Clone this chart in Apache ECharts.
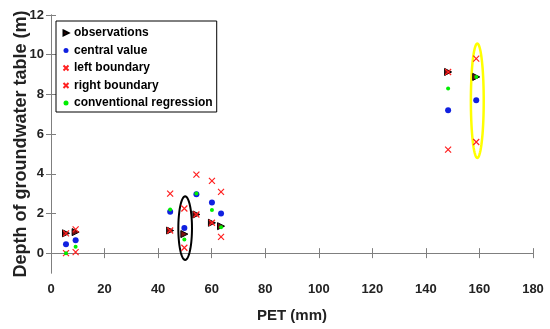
<!DOCTYPE html>
<html><head><meta charset="utf-8">
<script src="https://cdn.jsdelivr.net/npm/echarts@6/dist/echarts.min.js"></script>
<style>html,body{margin:0;padding:0;background:#fff}#c{width:550px;height:329px}</style>
</head><body><div id="c"></div>
<script>
var pet = [5.6, 9.2, 44.5, 49.8, 54.3, 60.1, 63.5, 148.3, 158.8];
var observations = [1.0, 1.06, 1.14, 0.96, 1.95, 1.53, 1.36, 9.13, 8.88];
var centralValue = [0.45, 0.65, 2.08, 1.27, 2.97, 2.55, 2.0, 7.2, 7.71];
var leftBoundary = [0.0, 0.05, 1.14, 0.27, 1.95, 1.53, 0.82, 5.22, 5.6];
var rightBoundary = [1.0, 1.2, 3.0, 2.25, 3.96, 3.64, 3.09, 9.13, 9.8];
var conventional = [0.0, 0.32, 2.2, 0.69, 3.0, 2.17, 1.3, 8.3, 8.88];
var xTicks = [0, 20, 40, 60, 80, 100, 120, 140, 160, 180];
var yTicks = [0, 2, 4, 6, 8, 10, 12];
// ellipse annotations: [centerX, centerY, radiusX, radiusY]
var blackEllipse = [[50.1, 1.26, 2.55, 1.6]];
var yellowEllipse = [[159.2, 7.68, 2.4, 2.88]];

function pairs(ys){ return pet.map(function(x,i){ return [x, ys[i]]; }); }
var xMark = 'path://M0,0L10,10M10,0L0,10';
var triRight = 'path://M0,0L10,5L0,10Z';

function ellipseRender(color, lw){
  return function(params, api){
    var cx = api.value(0), cy = api.value(1), rx = api.value(2), ry = api.value(3);
    var pts = [];
    for (var k = 0; k < 72; k++) {
      var t = k / 72 * Math.PI * 2;
      pts.push(api.coord([cx + rx * Math.cos(t), cy + ry * Math.sin(t)]));
    }
    return { type: 'polygon', shape: { points: pts }, style: { fill: 'none', stroke: color, lineWidth: lw }, z2: 1 };
  };
}

var axisLineStyle = { color: '#7f7f7f', width: 1 };
var font = 'Liberation Sans, Arial';
var chart = echarts.init(document.getElementById('c'));
chart.setOption({
  animation: false,
  backgroundColor: '#fff',
  grid: { left: 51, right: 17, top: 15, bottom: 56, containLabel: false, outerBoundsMode: 'none' },
  legend: {
    orient: 'vertical', left: 56, top: 21,
    data: [
      { name: 'observations', icon: triRight },
      { name: 'central value' },
      { name: 'left boundary' },
      { name: 'right boundary' },
      { name: 'conventional regression' }
    ],
    backgroundColor: '#fff', borderColor: '#000', borderWidth: 1,
    padding: [5, 4, 2, 5], itemGap: 3.5, itemWidth: 6, itemHeight: 5,
    textStyle: { fontFamily: font, fontWeight: 'bold', fontSize: 12, color: '#000', lineHeight: 14 }
  },
  xAxis: [{
    type: 'value', min: 0, max: 180, interval: 20, position: 'bottom',
    name: 'PET (mm)', nameLocation: 'middle', nameGap: 35, nameMoveOverlap: false,
    nameTextStyle: { fontFamily: font, fontWeight: 'bold', fontSize: 15, color: '#222' },
    axisLine: { show: true, lineStyle: axisLineStyle },
    axisTick: { show: true, inside: true, length: 5, lineStyle: axisLineStyle, customValues: xTicks },
    axisLabel: { margin: 10, fontFamily: font, fontWeight: 'bold', fontSize: 13, color: '#222', customValues: xTicks },
    splitLine: { show: false }
  }, {
    type: 'value', min: 0, max: 180, interval: 20, position: 'top',
    axisLine: { show: true, lineStyle: axisLineStyle },
    axisTick: { show: true, inside: true, length: 5, lineStyle: axisLineStyle, customValues: xTicks },
    axisLabel: { show: false }, splitLine: { show: false }
  }],
  yAxis: [{
    type: 'value', min: -1, max: 12, position: 'left',
    name: 'Depth of groundwater table (m)', nameLocation: 'middle', nameGap: 21, nameMoveOverlap: false,
    nameTextStyle: { fontFamily: font, fontWeight: 'bold', fontSize: 18, color: '#222' },
    axisLine: { show: true, lineStyle: axisLineStyle },
    axisTick: { show: true, inside: true, length: 5, lineStyle: axisLineStyle, customValues: yTicks },
    axisLabel: { margin: 7, fontFamily: font, fontWeight: 'bold', fontSize: 13, color: '#222', customValues: yTicks },
    splitLine: { show: false }
  }, {
    type: 'value', min: -1, max: 12, position: 'right',
    axisLine: { show: true, lineStyle: axisLineStyle },
    axisTick: { show: true, inside: true, length: 5, lineStyle: axisLineStyle, customValues: yTicks },
    axisLabel: { show: false }, splitLine: { show: false }
  }],
  series: [
    { name: 'black ellipse', type: 'custom', renderItem: ellipseRender('#000', 2), data: blackEllipse, z: 1, silent: true },
    { name: 'yellow ellipse', type: 'custom', renderItem: ellipseRender('#ffff00', 2.5), data: yellowEllipse, z: 1, silent: true },
    { name: 'observations', type: 'scatter', data: pairs(observations), symbol: 'triangle', symbolRotate: -90, symbolSize: 7,
      itemStyle: { color: '#7a1010', borderColor: '#000', borderWidth: 1, opacity: 1 }, z: 2 },
    { name: 'central value', type: 'scatter', data: pairs(centralValue), symbol: 'circle', symbolSize: 6,
      itemStyle: { color: '#1020e0', opacity: 1 }, z: 3 },
    { name: 'left boundary', type: 'scatter', data: pairs(leftBoundary), symbol: xMark, symbolSize: 6,
      itemStyle: { color: 'none', borderColor: '#ff2020', borderWidth: 1.2, opacity: 1 }, z: 4 },
    { name: 'right boundary', type: 'scatter', data: pairs(rightBoundary), symbol: xMark, symbolSize: 6,
      itemStyle: { color: 'none', borderColor: '#ff2020', borderWidth: 1.2, opacity: 1 }, z: 5 },
    { name: 'conventional regression', type: 'scatter', data: pairs(conventional), symbol: 'circle', symbolSize: 4,
      itemStyle: { color: '#00ee00', opacity: 1 }, z: 6 }
  ]
});
</script></body></html>
